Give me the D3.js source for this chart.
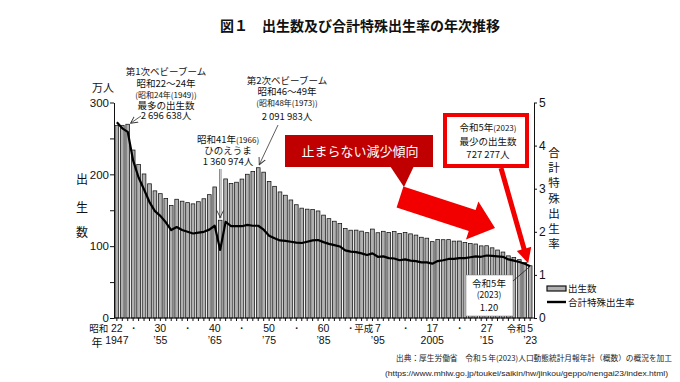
<!DOCTYPE html>
<html>
<head>
<meta charset="utf-8">
<script src="https://cdn.jsdelivr.net/npm/d3@7"></script>
<style>
body { margin: 0; background: #fff; }
svg { display: block; font-family: "Noto Sans CJK JP", sans-serif; }
</style>
</head>
<body>
<svg id="chart" width="680" height="382"></svg>
<script>
// births in 万人, total fertility rate, 1947 - 2023
var years = d3.range(1947, 2024);
var births = [
	267.9, 268.2, 269.7, 233.8, 213.8, 200.5, 186.8, 177.0, 173.1, 166.5,
	156.7, 165.3, 162.6, 160.6, 158.9, 161.9, 166.0, 171.7, 182.4, 136.1,
	193.6, 187.2, 189.0, 193.4, 200.1, 203.9, 209.2, 203.0, 190.1, 183.3,
	175.5, 170.9, 164.3, 157.7, 152.9, 151.5, 150.9, 149.0, 143.2, 138.3,
	134.7, 131.4, 124.7, 122.2, 122.3, 120.9, 118.8, 123.8, 118.7, 120.7,
	119.2, 120.3, 117.8, 119.1, 117.1, 115.4, 112.4, 111.1, 106.3, 109.3,
	109.0, 109.1, 107.0, 107.1, 105.1, 103.7, 103.0, 100.4, 100.6, 97.7,
	94.6, 91.8, 86.5, 84.1, 81.2, 77.1, 72.7];
var tfr = [
	4.54, 4.40, 4.32, 3.65, 3.26, 2.98, 2.69, 2.48, 2.37, 2.22,
	2.04, 2.11, 2.04, 2.00, 1.96, 1.98, 2.00, 2.05, 2.14, 1.58,
	2.23, 2.13, 2.13, 2.13, 2.16, 2.14, 2.14, 2.05, 1.91, 1.85,
	1.80, 1.79, 1.77, 1.75, 1.74, 1.77, 1.80, 1.81, 1.76, 1.72,
	1.69, 1.66, 1.57, 1.54, 1.53, 1.50, 1.46, 1.50, 1.42, 1.43,
	1.39, 1.38, 1.34, 1.36, 1.33, 1.32, 1.29, 1.29, 1.26, 1.32,
	1.34, 1.37, 1.37, 1.39, 1.39, 1.41, 1.43, 1.42, 1.45, 1.44,
	1.43, 1.42, 1.36, 1.33, 1.30, 1.26, 1.20];

var birthTicks = d3.range(0, 301, 50);
var rateTicks = [0, 1, 2, 3, 4, 5];
var labelYears = [1947, 1950, 1955, 1960, 1965, 1970, 1975, 1980, 1985, 1990, 1995, 2000, 2005, 2010, 2015, 2023];
var eraLabels = ["22", "・", "30", "・", "40", "・", "50", "・", "60", "・", "7", "・", "17", "・", "27", "5"];
var westLabels = ["1947", "", "’55", "", "’65", "", "’75", "", "’85", "", "’95", "", "2005", "", "’15", "’23"];
var eraNames = {1947: "昭和", 1995: "平成", 2023: "令和"};

var svg = d3.select("#chart");
var numFont = "'Liberation Sans', Arial, sans-serif";

var x = d3.scaleBand().domain(years).range([115, 532]).paddingInner(0.32);
var bw = x.bandwidth();
var y = d3.scaleLinear().domain([0, 300]).range([318, 102.5]);
var y2 = d3.scaleLinear().domain([0, 5]).range([318, 102.5]);
function cx(yr) { return x(yr) + bw / 2; }

var defs = svg.append("defs");
defs.append("marker").attr("id", "open")
	.attr("viewBox", "0 0 8 8").attr("refX", 7).attr("refY", 4)
	.attr("markerWidth", 8).attr("markerHeight", 8).attr("orient", "auto")
	.attr("markerUnits", "userSpaceOnUse")
	.append("path").attr("d", "M0,0.5 L7,4 L0,7.5").attr("fill", "none").attr("stroke", "#333").attr("stroke-width", 0.9);

// title
svg.append("text").attr("x", 360).attr("y", 31).attr("text-anchor", "middle")
	.attr("font-size", 14).attr("font-weight", "bold").attr("fill", "#111")
	.text("図１　出生数及び合計特殊出生率の年次推移");

// bars
svg.append("g").selectAll("rect").data(years).join("rect")
	.attr("x", function(d) { return x(d); })
	.attr("y", function(d, i) { return y(births[i]); })
	.attr("width", bw)
	.attr("height", function(d, i) { return y(0) - y(births[i]); })
	.attr("fill", "#b0b0b0").attr("stroke", "#111").attr("stroke-width", 0.75);

// fertility line
var line = d3.line().x(function(d, i) { return cx(years[i]); }).y(function(d) { return y2(d); });
svg.append("path").datum(tfr).attr("d", line)
	.attr("fill", "none").attr("stroke", "#000").attr("stroke-width", 2.2).attr("stroke-linejoin", "round");

// left axis
var gl = svg.append("g").attr("transform", "translate(114,0)")
	.call(d3.axisLeft(y).tickValues(birthTicks).tickSize(4).tickSizeOuter(0)
		.tickFormat(function(d) { return d % 100 === 0 ? d : ""; }));
gl.selectAll("text").attr("font-family", numFont).attr("font-size", 11.5).attr("fill", "#111").attr("x", -5);
gl.selectAll("line, path").attr("stroke", "#111");

// right axis
var gr = svg.append("g").attr("transform", "translate(534,0)")
	.call(d3.axisRight(y2).tickValues(rateTicks).tickSize(3).tickSizeOuter(0).tickFormat(d3.format("d")));
gr.selectAll("text").attr("font-family", numFont).attr("font-size", 12).attr("fill", "#111").attr("x", 5);
gr.selectAll("line, path").attr("stroke", "#111");

// bottom axis
var gb = svg.append("g").attr("transform", "translate(0,318)")
	.call(d3.axisBottom(x).tickSize(3).tickSizeOuter(0).tickFormat(""));
gb.select(".domain").remove();
gb.selectAll("line").attr("stroke", "#111");
svg.append("line").attr("x1", 114).attr("x2", 534).attr("y1", 318).attr("y2", 318).attr("stroke", "#111");

var gx = svg.append("g").attr("font-family", numFont).attr("font-size", 10.5).attr("fill", "#111");
labelYears.forEach(function(yr, i) {
	gx.append("text").attr("x", cx(yr)).attr("y", 332).attr("text-anchor", "middle").text(eraLabels[i]);
	if (westLabels[i]) {
		gx.append("text").attr("x", cx(yr)).attr("y", 344).attr("text-anchor", "middle").text(westLabels[i]);
	}
	if (eraNames[yr]) {
		gx.append("text").attr("x", cx(yr) - (eraLabels[i].length > 1 ? 8.5 : 4.5)).attr("y", 332).attr("text-anchor", "end")
			.attr("font-family", "'Noto Sans CJK JP'").attr("font-size", 9.5).text(eraNames[yr]);
	}
});
svg.append("text").attr("x", 97).attr("y", 347).attr("text-anchor", "middle").attr("font-size", 11).attr("fill", "#111").text("年");

// axis titles
svg.append("text").attr("x", 103).attr("y", 92).attr("text-anchor", "middle").attr("font-size", 11).attr("fill", "#111").text("万人");
["出", "生", "数"].forEach(function(c, i) {
	svg.append("text").attr("x", 82).attr("y", [184, 212, 237][i]).attr("text-anchor", "middle")
		.attr("font-size", 12).attr("fill", "#111").text(c);
});
"合計特殊出生率".split("").forEach(function(c, i) {
	svg.append("text").attr("x", 554).attr("y", 157 + i * 15.2).attr("text-anchor", "middle")
		.attr("font-size", 11.5).attr("fill", "#111").text(c);
});

// annotations: [baseline, size, text, small suffix]
function note(lines, cxp) {
	lines.forEach(function(l) {
		var t = svg.append("text").attr("x", cxp).attr("y", l[0]).attr("text-anchor", "middle")
			.attr("font-size", l[1]).attr("fill", "#111");
		t.append("tspan").text(l[2]);
		if (l[3]) t.append("tspan").attr("font-size", l[1] - 1.5).text(l[3]);
	});
}
note([[75, 9.5, "第1次ベビーブーム"], [87, 9.5, "昭和22～24年"], [98, 8, "(昭和24年(1949))"],
	[109, 9.5, "最多の出生数"], [119, 9.5, "2 696 638人"]], 166);
svg.append("line").attr("x1", 141).attr("y1", 116).attr("x2", x(1949) + bw + 1).attr("y2", y(births[2]) - 1)
	.attr("stroke", "#333").attr("stroke-width", 0.8).attr("marker-end", "url(#open)");

note([[84, 9.5, "第2次ベビーブーム"], [95, 9.5, "昭和46～49年"], [106, 8, "(昭和48年(1973))"],
	[120, 9.5, "2 091 983人"]], 287);
svg.append("line").attr("x1", 278).attr("y1", 125).attr("x2", cx(1973) + 1).attr("y2", y(births[26]) - 3)
	.attr("stroke", "#333").attr("stroke-width", 0.8).attr("marker-end", "url(#open)");

note([[143, 9.5, "昭和41年", "(1966)"], [154, 9.5, "ひのえうま"], [165, 9.5, "1 360 974人"]], 228);
svg.append("line").attr("x1", cx(1966)).attr("y1", 169).attr("x2", cx(1966)).attr("y2", y(births[19]) - 2)
	.attr("stroke", "#555").attr("stroke-width", 2.4);
svg.append("line").attr("x1", cx(1966)).attr("y1", 169).attr("x2", cx(1966)).attr("y2", y(births[19]) - 3)
	.attr("stroke", "#fff").attr("stroke-width", 1).attr("marker-end", "url(#open)");

// red arrows
function arrow(x1, y1, x2, y2, sw, hw, hl) {
	var dx = x2 - x1, dy = y2 - y1, len = Math.sqrt(dx * dx + dy * dy);
	var ux = dx / len, uy = dy / len, px = -uy, py = ux;
	var bx = x2 - ux * hl, by = y2 - uy * hl;
	var pts = [
		[x1 + px * sw / 2, y1 + py * sw / 2], [bx + px * sw / 2, by + py * sw / 2],
		[bx + px * hw / 2, by + py * hw / 2], [x2, y2],
		[bx - px * hw / 2, by - py * hw / 2], [bx - px * sw / 2, by - py * sw / 2],
		[x1 - px * sw / 2, y1 - py * sw / 2]];
	return "M" + pts.map(function(p) { return p.join(","); }).join("L") + "Z";
}
svg.append("path").attr("d", arrow(400, 197, 495, 228, 22, 40, 24)).attr("fill", "#f20000");

svg.append("rect").attr("x", 285).attr("y", 135).attr("width", 148).attr("height", 32).attr("fill", "#c00000");
svg.append("path").attr("d", "M390,166L414,166L404,187Z").attr("fill", "#c00000");
svg.append("text").attr("x", 360).attr("y", 156).attr("text-anchor", "middle")
	.attr("font-size", 13).attr("fill", "#fff").text("止まらない減少傾向");

svg.append("rect").attr("x", 445).attr("y", 115).attr("width", 82).attr("height", 51)
	.attr("fill", "#fff").attr("stroke", "#f20000").attr("stroke-width", 4);
note([[131, 9.5, "令和5年", "(2023)"], [145, 9.5, "最少の出生数"], [158, 9.5, "727 277人"]], 488);
svg.append("path").attr("d", arrow(501, 168, cx(2023) - 2, y2(tfr[76]) - 3, 5, 15, 15)).attr("fill", "#f20000");

// 2023 rate box
svg.append("rect").attr("x", 466).attr("y", 275).attr("width", 47).attr("height", 41)
	.attr("fill", "#fff").attr("stroke", "#777").attr("stroke-width", 0.5);
note([[287, 9.5, "令和5年"], [298, 8.5, "(2023)"], [311, 9.5, "1.20"]], 489);
svg.append("line").attr("x1", 513).attr("y1", 281).attr("x2", cx(2023)).attr("y2", y2(tfr[76]))
	.attr("stroke", "#222").attr("stroke-width", 0.8);

// legend
svg.append("rect").attr("x", 547).attr("y", 286).attr("width", 19).attr("height", 5)
	.attr("fill", "#b0b0b0").attr("stroke", "#111").attr("stroke-width", 1.2);
svg.append("text").attr("x", 568).attr("y", 292).attr("font-size", 9.5).attr("fill", "#111").text("出生数");
svg.append("line").attr("x1", 547).attr("x2", 566).attr("y1", 302).attr("y2", 302).attr("stroke", "#000").attr("stroke-width", 2.4);
svg.append("text").attr("x", 568).attr("y", 305.5).attr("font-size", 9.5).attr("fill", "#111").text("合計特殊出生率");

// source
svg.append("text").attr("x", 672).attr("y", 361).attr("text-anchor", "end")
	.attr("font-size", 7.6).attr("fill", "#222").attr("textLength", 276).attr("lengthAdjust", "spacingAndGlyphs")
	.text("出典：厚生労働省　令和５年(2023)人口動態統計月報年計（概数）の概況を加工");
svg.append("text").attr("x", 668).attr("y", 376).attr("text-anchor", "end")
	.attr("font-family", numFont).attr("font-size", 7.5).attr("fill", "#222")
	.attr("textLength", 283).attr("lengthAdjust", "spacingAndGlyphs")
	.text("(https://www.mhlw.go.jp/toukei/saikin/hw/jinkou/geppo/nengai23/index.html)");
</script>
</body>
</html>
